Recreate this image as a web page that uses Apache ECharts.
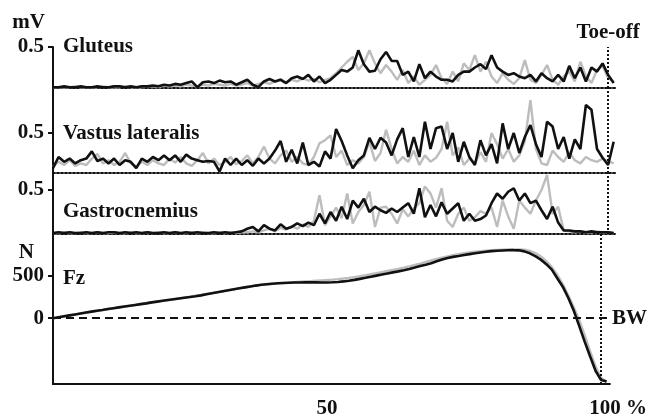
<!DOCTYPE html>
<html>
<head>
<meta charset="utf-8">
<script src="https://cdn.jsdelivr.net/npm/echarts@6.0.0/dist/echarts.min.js"></script>
<style>
html, body { margin: 0; padding: 0; background: #fff; }
#main { width: 650px; height: 419px; }
</style>
</head>
<body>
<div id="main"></div>
<script>
// % of stance phase, 0..101
var pct = [];
for (var i = 0; i <= 101; i++) pct.push(i);

// EMG, mV
var glutBlack = [0.01,0.01,0.02,0.01,0.01,0.02,0.01,0.01,0.02,0.01,0.01,0.02,0.02,0.01,0.02,0.01,0.02,0.02,0.03,
    0.02,0.04,0.03,0.05,0.04,0.06,0.08,0.01,0.07,0.08,0.06,
    0.09,0.07,0.08,0.04,0.07,0.10,0.04,0.01,0.08,0.11,
    0.08,0.10,0.06,0.12,0.14,0.11,0.16,0.08,0.14,0.06,
    0.10,0.16,0.22,0.20,0.25,0.46,0.29,0.20,0.21,0.35,
    0.44,0.33,0.33,0.16,0.20,0.08,0.29,0.12,0.20,0.14,
    0.10,0.10,0.08,0.16,0.20,0.20,0.25,0.29,0.23,0.40,
    0.25,0.20,0.16,0.18,0.14,0.12,0.16,0.08,0.18,0.12,
    0.08,0.16,0.08,0.27,0.12,0.25,0.08,0.25,0.20,0.30,
    0.16,0.06];
var glutGray = [0.01,0.01,0.01,0.01,0.02,0.01,0.01,0.01,0.01,0.02,0.01,0.01,0.01,0.02,0.01,0.01,0.01,0.02,0.02,
    0.01,0.03,0.02,0.03,0.02,0.04,0.03,0.02,0.04,0.03,0.05,
    0.04,0.03,0.05,0.03,0.04,0.06,0.03,0.05,0.07,0.05,
    0.08,0.11,0.07,0.10,0.08,0.12,0.09,0.11,0.07,0.10,
    0.12,0.18,0.25,0.32,0.38,0.22,0.30,0.46,0.30,0.18,
    0.28,0.20,0.10,0.22,0.06,0.14,0.04,0.10,0.16,0.28,
    0.12,0.05,0.20,0.08,0.30,0.22,0.40,0.20,0.32,0.14,
    0.06,0.18,0.10,0.05,0.12,0.34,0.10,0.06,0.16,0.28,
    0.10,0.04,0.14,0.20,0.08,0.32,0.14,0.06,0.22,0.27,
    0.12,0.08];

var vastBlack = [0.06,0.20,0.14,0.18,0.12,0.16,0.18,0.27,0.15,0.18,
    0.12,0.18,0.10,0.16,0.14,0.06,0.18,0.14,0.20,0.16,
    0.22,0.16,0.22,0.14,0.23,0.18,0.16,0.14,0.15,0.14,
    0.02,0.18,0.10,0.18,0.10,0.16,0.09,0.18,0.12,0.18,
    0.28,0.40,0.14,0.29,0.12,0.38,0.10,0.14,0.08,0.27,
    0.18,0.55,0.40,0.22,0.06,0.16,0.22,0.44,0.30,0.44,
    0.38,0.22,0.42,0.56,0.20,0.45,0.20,0.64,0.30,0.56,
    0.58,0.30,0.50,0.14,0.39,0.20,0.10,0.41,0.22,0.36,
    0.12,0.62,0.30,0.50,0.25,0.45,0.60,0.36,0.20,0.64,
    0.58,0.30,0.45,0.18,0.42,0.30,0.85,0.79,0.30,0.19,
    0.10,0.39];
var vastGray = [0.08,0.14,0.10,0.16,0.09,0.12,0.10,0.18,0.24,0.12,
    0.16,0.10,0.14,0.25,0.12,0.08,0.14,0.10,0.16,0.12,
    0.10,0.18,0.13,0.20,0.12,0.09,0.16,0.25,0.12,0.18,
    0.10,0.14,0.20,0.11,0.15,0.22,0.12,0.20,0.33,0.18,
    0.12,0.22,0.28,0.14,0.20,0.12,0.10,0.20,0.37,0.41,
    0.47,0.20,0.28,0.10,0.16,0.12,0.20,0.39,0.15,0.25,
    0.54,0.30,0.12,0.20,0.14,0.28,0.10,0.22,0.14,0.19,
    0.30,0.64,0.22,0.32,0.10,0.18,0.12,0.26,0.14,0.50,
    0.36,0.18,0.30,0.14,0.22,0.40,0.91,0.30,0.12,0.10,
    0.28,0.20,0.14,0.26,0.16,0.12,0.20,0.16,0.14,0.18,
    0.15,0.12];

var gastBlack = [0.01,0.02,0.01,0.02,0.01,0.01,0.02,0.01,0.02,0.01,
    0.02,0.02,0.01,0.02,0.01,0.02,0.01,0.02,0.01,0.01,
    0.02,0.01,0.02,0.01,0.02,0.01,0.02,0.01,0.01,0.02,
    0.01,0.02,0.01,0.02,0.03,0.06,0.08,0.03,0.10,0.06,
    0.04,0.11,0.06,0.08,0.12,0.09,0.13,0.10,0.23,0.12,
    0.25,0.15,0.31,0.17,0.38,0.30,0.40,0.25,0.31,0.27,
    0.24,0.29,0.25,0.30,0.35,0.23,0.52,0.19,0.33,0.20,
    0.36,0.23,0.29,0.35,0.15,0.23,0.15,0.17,0.21,0.35,
    0.46,0.40,0.48,0.52,0.38,0.46,0.35,0.38,0.27,0.17,
    0.31,0.13,0.04,0.04,0.03,0.03,0.02,0.03,0.02,0.02,
    0.02,0.01];
var gastGray = [0.01,0.01,0.02,0.01,0.01,0.02,0.01,0.01,0.02,0.01,
    0.01,0.02,0.01,0.01,0.02,0.01,0.01,0.02,0.01,0.02,
    0.01,0.01,0.02,0.01,0.01,0.02,0.01,0.02,0.01,0.01,
    0.02,0.01,0.02,0.01,0.02,0.02,0.03,0.02,0.04,0.06,
    0.03,0.07,0.05,0.09,0.06,0.11,0.08,0.15,0.44,0.10,
    0.20,0.30,0.18,0.46,0.12,0.25,0.33,0.48,0.08,0.30,
    0.31,0.23,0.12,0.28,0.20,0.29,0.35,0.54,0.46,0.30,
    0.52,0.15,0.08,0.23,0.30,0.15,0.19,0.26,0.23,0.30,
    0.08,0.38,0.20,0.06,0.38,0.30,0.23,0.38,0.50,0.67,
    0.23,0.31,0.04,0.03,0.02,0.03,0.02,0.02,0.03,0.02,
    0.02,0.01];

// vertical force minus body weight, N
var fzBlack = [0,11,22,33,44,55,66,77,88,97,
    107,117,127,137,147,156,165,174,186,195,
    204,213,222,231,240,248,257,268,281,293,
    305,317,329,340,351,362,373,383,392,399,
    405,410,414,417,419,420,421,421,421,420,
    420,422,426,432,440,450,462,474,487,500,
    513,526,538,550,564,579,595,612,628,645,
    668,690,708,720,731,743,753,763,772,780,
    788,792,796,798,799,797,785,762,728,688,
    635,570,470,370,240,90,-90,-275,-450,-620,
    -727,-745];
var fzGray = [0,10,20,31,42,53,64,75,85,95,
    105,115,125,135,145,155,165,175,185,195,
    204,213,223,233,243,253,263,273,284,295,
    306,317,328,339,350,361,372,382,391,399,
    405,409,414,418,423,428,432,436,440,444,
    448,453,459,466,474,483,493,504,516,528,
    541,554,567,580,594,609,625,642,660,678,
    695,711,726,740,752,763,772,780,787,793,
    798,802,805,807,808,808,805,790,765,725,
    670,600,510,400,270,130,-20,-200,-390,-570,
    -700,-750];

var xTicks = [50, 100];

function pairs(vals) {
    return vals.map(function (v, i) { return [pct[i], v]; });
}

var font = "'Liberation Serif', 'Times New Roman', serif";
var GRAY = '#bdbdbd';
var BLACK = '#111';

var grids = [
    { left: 53, width: 564, top: 47, height: 41 },
    { left: 53, width: 564, top: 88, height: 85 },
    { left: 53, width: 564, top: 173, height: 61 },
    { left: 53, width: 564, top: 234, height: 155 }
];

var yRanges = [[0, 0.5], [0, 1.0625], [0, 0.693], [-773, 989]];
var yTicks = [[0.5], [0.5], [0.5], [0, 500]];

var xAxes = [], yAxes = [];
for (var g = 0; g < 4; g++) {
    var last = g === 3;
    xAxes.push({
        type: 'value', gridIndex: g, min: 0, max: 101.6,
        splitLine: { show: false },
        axisTick: { show: false },
        axisLine: {
            onZero: false,
            lineStyle: { color: BLACK, width: 2, type: last ? 'solid' : 'dotted' }
        },
        axisLabel: last ? {
            show: true, customValues: xTicks, margin: 14,
            fontFamily: font, fontWeight: 'bold', fontSize: 21, color: BLACK,
            formatter: function (v) { return v === 100 ? '{p|100 %}' : String(v); },
            rich: { p: { fontFamily: font, fontWeight: 'bold', fontSize: 21, color: BLACK, padding: [0, 0, 0, 34] } }
        } : { show: false }
    });
    yAxes.push({
        type: 'value', gridIndex: g, min: yRanges[g][0], max: yRanges[g][1],
        splitLine: { show: false },
        axisLine: { show: true, onZero: false, lineStyle: { color: BLACK, width: 2 } },
        axisTick: { show: true, length: 5, customValues: yTicks[g], lineStyle: { color: BLACK, width: 2 } },
        axisLabel: {
            customValues: yTicks[g], margin: 9,
            fontFamily: font, fontWeight: 'bold', fontSize: 21, color: BLACK
        },
        name: g === 0 ? 'mV' : (g === 3 ? 'N' : ''),
        nameLocation: 'end',
        nameGap: g === 0 ? 24 : -19,
        nameTextStyle: {
            fontFamily: font, fontWeight: 'bold', fontSize: 21, color: BLACK,
            align: 'right', verticalAlign: 'middle',
            padding: g === 0 ? [0, 8, 0, 0] : [0, 19, 0, 0]
        }
    });
}

var toeOff = { xAxis: 100, label: { show: false } };
function marks(g) {
    var data = [g === 0 ? { xAxis: 100, label: { show: true, formatter: 'Toe-off', position: 'end', distance: 4 } } : toeOff];
    if (g === 3) {
        data.push({ yAxis: 0, lineStyle: { type: [8, 5], width: 2, color: BLACK },
            label: { show: true, formatter: 'BW', position: 'end', distance: 2 } });
    }
    return {
        silent: true, symbol: 'none', animation: false,
        lineStyle: { color: BLACK, type: 'dotted', width: 2 },
        label: { fontFamily: font, fontWeight: 'bold', fontSize: 21, color: BLACK },
        data: data
    };
}

var sets = [[glutGray, glutBlack], [vastGray, vastBlack], [gastGray, gastBlack], [fzGray, fzBlack]];
var series = [];
sets.forEach(function (s, g) {
    series.push({
        type: 'line', xAxisIndex: g, yAxisIndex: g, data: pairs(s[0]),
        showSymbol: false, symbol: 'none', silent: true,
        lineStyle: { color: GRAY, width: 2.4 }
    });
    series.push({
        type: 'line', xAxisIndex: g, yAxisIndex: g, data: pairs(s[1]),
        showSymbol: false, symbol: 'none', silent: true,
        lineStyle: { color: BLACK, width: 2.6 },
        markLine: marks(g)
    });
});

function panelTitle(text, top) {
    return {
        text: text, left: 63, top: top, padding: 0,
        textStyle: { fontFamily: font, fontWeight: 'bold', fontSize: 21, color: BLACK }
    };
}

var chart = echarts.init(document.getElementById('main'));
chart.setOption({
    animation: false,
    backgroundColor: '#fff',
    title: [
        panelTitle('Gluteus', 36),
        panelTitle('Vastus lateralis', 123),
        panelTitle('Gastrocnemius', 201),
        panelTitle('Fz', 268)
    ],
    grid: grids,
    xAxis: xAxes,
    yAxis: yAxes,
    series: series
});
</script>
</body>
</html>
